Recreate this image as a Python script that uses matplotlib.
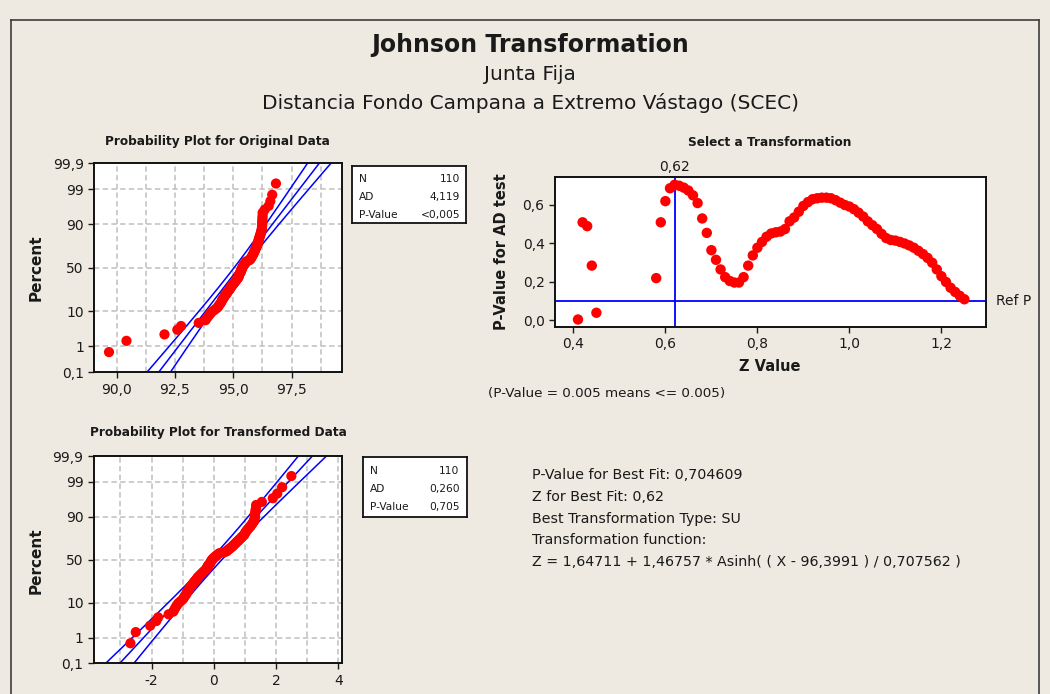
import numpy as np
import matplotlib
matplotlib.use("Agg")
import matplotlib.pyplot as plt
from matplotlib.lines import Line2D
from statistics import NormalDist

plt.rcParams['font.family'] = ['DejaVu Sans']

# ---------------- data ----------------
original_data = [89.67, 90.42, 92.05, 92.60, 92.76, 93.52, 93.81, 93.88, 93.95, 94.02,
                 94.09, 94.19, 94.28, 94.35, 94.38, 94.43, 94.47, 94.50, 94.52, 94.55,
                 94.59, 94.62, 94.64, 94.68, 94.72, 94.74, 94.77, 94.80, 94.83, 94.86,
                 94.89, 94.91, 94.93, 94.96, 95.00, 95.02, 95.05, 95.08, 95.11, 95.13,
                 95.16, 95.19, 95.21, 95.23, 95.24, 95.25, 95.26, 95.28, 95.29, 95.32,
                 95.33, 95.34, 95.35, 95.36, 95.38, 95.39, 95.41, 95.43, 95.45, 95.48,
                 95.50, 95.52, 95.55, 95.57, 95.67, 95.72, 95.74, 95.76, 95.78, 95.80,
                 95.82, 95.84, 95.86, 95.87, 95.89, 95.91, 95.92, 95.94, 95.96, 95.97,
                 95.99, 96.01, 96.02, 96.04, 96.06, 96.07, 96.08, 96.09, 96.10, 96.12,
                 96.13, 96.15, 96.17, 96.18, 96.20, 96.21, 96.23, 96.23, 96.24, 96.24,
                 96.24, 96.25, 96.25, 96.26, 96.26, 96.35, 96.52, 96.59, 96.67, 96.83]

# Johnson SU transformation shown on the chart
su_gamma, su_delta, su_xi, su_lambda = 1.64711, 1.46757, 96.3991, 0.707562

z_values = [0.41, 0.42, 0.43, 0.44, 0.45,
            0.58, 0.59, 0.60, 0.61, 0.62, 0.63, 0.64, 0.65, 0.66, 0.67, 0.68, 0.69,
            0.70, 0.71, 0.72, 0.73, 0.74, 0.75, 0.76, 0.77, 0.78, 0.79,
            0.80, 0.81, 0.82, 0.83, 0.84, 0.85, 0.86, 0.87, 0.88, 0.89,
            0.90, 0.91, 0.92, 0.93, 0.94, 0.95, 0.96, 0.97, 0.98, 0.99,
            1.00, 1.01, 1.02, 1.03, 1.04, 1.05, 1.06, 1.07, 1.08, 1.09,
            1.10, 1.11, 1.12, 1.13, 1.14, 1.15, 1.16, 1.17, 1.18, 1.19,
            1.20, 1.21, 1.22, 1.23, 1.24, 1.25]
p_values = [0.005, 0.51, 0.49, 0.285, 0.04,
            0.22, 0.51, 0.62, 0.687, 0.705, 0.70, 0.69, 0.675, 0.65, 0.61, 0.53, 0.455,
            0.365, 0.315, 0.265, 0.225, 0.205, 0.197, 0.197, 0.225, 0.285, 0.338,
            0.378, 0.408, 0.435, 0.452, 0.458, 0.462, 0.475, 0.515, 0.535, 0.565,
            0.595, 0.615, 0.630, 0.635, 0.638, 0.638, 0.635, 0.625, 0.612, 0.600,
            0.592, 0.578, 0.560, 0.540, 0.515, 0.495, 0.475, 0.450, 0.428, 0.418,
            0.415, 0.408, 0.400, 0.390, 0.378, 0.362, 0.345, 0.325, 0.300, 0.265,
            0.230, 0.200, 0.170, 0.148, 0.128, 0.110]
best_z = 0.62
ref_p = 0.10

pct_ticks = [0.1, 1, 10, 50, 90, 99, 99.9]
pct_labels = ["0,1", "1", "10", "50", "90", "99", "99,9"]
pct_grid = [1, 10, 50, 90, 99]

orig_xticks = [90.0, 92.5, 95.0, 97.5]
orig_xlabels = ["90,0", "92,5", "95,0", "97,5"]
orig_xgrid = [90.0, 91.25, 92.5, 93.75, 95.0, 96.25, 97.5, 98.75]

trans_xticks = [-2, 0, 2, 4]
trans_xlabels = ["-2", "0", "2", "4"]
trans_xgrid = [-3, -2, -1, 0, 1, 2, 3, 4]

sel_xticks = [0.4, 0.6, 0.8, 1.0, 1.2]
sel_xlabels = ["0,4", "0,6", "0,8", "1,0", "1,2"]
sel_yticks = [0.0, 0.2, 0.4, 0.6]
sel_ylabels = ["0,0", "0,2", "0,4", "0,6"]

orig_stats = [("N", "110"), ("AD", "4,119"), ("P-Value", "<0,005")]
trans_stats = [("N", "110"), ("AD", "0,260"), ("P-Value", "0,705")]

summary_lines = ["P-Value for Best Fit: 0,704609",
                 "Z for Best Fit: 0,62",
                 "Best Transformation Type: SU",
                 "Transformation function:",
                 "Z = 1,64711 + 1,46757 * Asinh( ( X - 96,3991 ) / 0,707562 )"]

# ---------------- figure ----------------
W, H = 1050, 694
BG = '#EEEAE1'
TXT = '#1a1a1a'
fig = plt.figure(figsize=(W / 100, H / 100), dpi=100)
fig.patch.set_facecolor(BG)


def fx(x):
    return x / W


def fy(y):
    return 1 - y / H


def rect(x0, y0, x1, y1):
    return [x0 / W, 1 - y1 / H, (x1 - x0) / W, (y1 - y0) / H]


# outer frame
for xs, ys in [((11, 11), (20, 700)), ((11, 1039), (20, 20)), ((1039, 1039), (20, 700))]:
    fig.add_artist(Line2D([fx(xs[0]), fx(xs[1])], [fy(ys[0]), fy(ys[1])],
                          transform=fig.transFigure, color='#3c3c3c', lw=1.2))

fig.text(fx(530), fy(45), "Johnson Transformation", ha='center', va='center',
         fontsize=17, fontweight='bold', color=TXT)
fig.text(fx(530), fy(74), "Junta Fija", ha='center', va='center', fontsize=14.5, color=TXT)
fig.text(fx(530), fy(103), "Distancia Fondo Campana a Extremo Vástago (SCEC)",
         ha='center', va='center', fontsize=14.5, color=TXT)

nd = NormalDist()
Z_LO, Z_HI = nd.inv_cdf(0.001), nd.inv_cdf(0.999)
GRID_KW = dict(color='#BEBEBE', lw=1.1, ls=(0, (3.5, 2.2)), zorder=0)


def style_axes(ax):
    for s in ax.spines.values():
        s.set_linewidth(1.4)
        s.set_color('#111111')
    ax.tick_params(direction='out', length=4, width=1, labelsize=10,
                   colors=TXT, top=False, right=False)


def prob_plot(ax, data, xlim, xgrid, xticks, xlabels):
    d = np.sort(np.asarray(data, float))
    n = d.size
    q = np.array([nd.inv_cdf((i - 0.3) / (n + 0.4)) for i in range(1, n + 1)])
    mu, sd = d.mean(), d.std(ddof=1)
    zz = np.linspace(Z_LO - 0.6, Z_HI + 0.6, 300)
    ctr = mu + sd * zz
    half = 1.96 * sd * np.sqrt(1.0 / n + zz ** 2 / (2.0 * (n - 1)))
    for gx in xgrid:
        ax.axvline(gx, **GRID_KW)
    for gp in pct_grid:
        ax.axhline(nd.inv_cdf(gp / 100), **GRID_KW)
    for xs in (ctr - half, ctr, ctr + half):
        ax.plot(xs, zz, color='#0000FF', lw=1.1, zorder=2)
    ax.scatter(d, q, s=54, color='#FF0000', edgecolors='none', zorder=4, clip_on=False)
    ax.set_xlim(*xlim)
    ax.set_ylim(Z_LO, Z_HI)
    ax.set_xticks(xticks, xlabels)
    ax.set_yticks([nd.inv_cdf(p / 100) for p in pct_ticks], pct_labels)
    style_axes(ax)


def stat_box(r, rows, lx, rx, ys):
    bx = fig.add_axes(rect(*r))
    bx.set_xticks([])
    bx.set_yticks([])
    bx.set_facecolor('white')
    for s in bx.spines.values():
        s.set_linewidth(1.3)
        s.set_color('#111111')
    for (lab, val), y in zip(rows, ys):
        bx.text(lx, y, lab, ha='left', va='center', fontsize=7.7, color=TXT, transform=bx.transAxes)
        bx.text(rx, y, val, ha='right', va='center', fontsize=7.7, color=TXT, transform=bx.transAxes)


# --- top-left: original data
ax1 = fig.add_axes(rect(94.3, 163.3, 341.7, 372.3))
prob_plot(ax1, original_data, (89.04, 99.65), orig_xgrid, orig_xticks, orig_xlabels)
fig.text(fx(217), fy(142), "Probability Plot for Original Data", ha='center', va='center',
         fontsize=8.7, fontweight='bold', color=TXT)
fig.text(fx(36), fy(268), "Percent", rotation=90, ha='center', va='center',
         fontsize=11, fontweight='bold', color=TXT)
stat_box((352.3, 166, 465.7, 223.3), orig_stats, 0.06, 0.95, [0.77, 0.46, 0.15])

# --- bottom-left: transformed data
transformed_data = su_gamma + su_delta * np.arcsinh((np.asarray(original_data) - su_xi) / su_lambda)
ax2 = fig.add_axes(rect(94, 456, 342, 663.3))
prob_plot(ax2, transformed_data, (-3.85, 4.12), trans_xgrid, trans_xticks, trans_xlabels)
fig.text(fx(218), fy(433), "Probability Plot for Transformed Data", ha='center', va='center',
         fontsize=8.7, fontweight='bold', color=TXT)
fig.text(fx(36), fy(561), "Percent", rotation=90, ha='center', va='center',
         fontsize=11, fontweight='bold', color=TXT)
stat_box((363, 457.3, 467, 516.7), trans_stats, 0.07, 0.93, [0.775, 0.47, 0.17])

# --- top-right: select a transformation
ax3 = fig.add_axes(rect(555, 176.5, 986, 327))
ax3.axvline(best_z, color='#0000FF', lw=1.3, zorder=2)
ax3.axhline(ref_p, color='#0000FF', lw=1.3, zorder=2)
ax3.scatter(z_values, p_values, s=56, color='#FF0000', edgecolors='none', zorder=4)
ax3.set_xlim(0.36, 1.297)
ax3.set_ylim(-0.034, 0.748)
ax3.set_xticks(sel_xticks, sel_xlabels)
ax3.set_yticks(sel_yticks, sel_ylabels)
style_axes(ax3)
ax3.annotate("0,62", xy=(best_z, 1.0), xycoords=('data', 'axes fraction'),
             xytext=(0, 2), textcoords='offset points', ha='center', va='bottom',
             fontsize=10, color=TXT)
ax3.annotate("Ref P", xy=(1.0, ref_p), xycoords=('axes fraction', 'data'),
             xytext=(7, 0), textcoords='offset points', ha='left', va='center',
             fontsize=10, color=TXT)
fig.text(fx(770), fy(142), "Select a Transformation", ha='center', va='center',
         fontsize=8.7, fontweight='bold', color=TXT)
fig.text(fx(770), fy(367), "Z Value", ha='center', va='center',
         fontsize=10.5, fontweight='bold', color=TXT)
fig.text(fx(502), fy(252), "P-Value for AD test", rotation=90, ha='center', va='center',
         fontsize=10.5, fontweight='bold', color=TXT)
fig.text(fx(488), fy(394), "(P-Value = 0.005 means <= 0.005)", ha='left', va='center',
         fontsize=9.7, color=TXT)

# --- summary text
for i, line in enumerate(summary_lines):
    fig.text(fx(532), fy(475 + 21.8 * i), line, ha='left', va='center', fontsize=10.3, color=TXT)

fig.savefig("out.png", dpi=100, facecolor=BG)
